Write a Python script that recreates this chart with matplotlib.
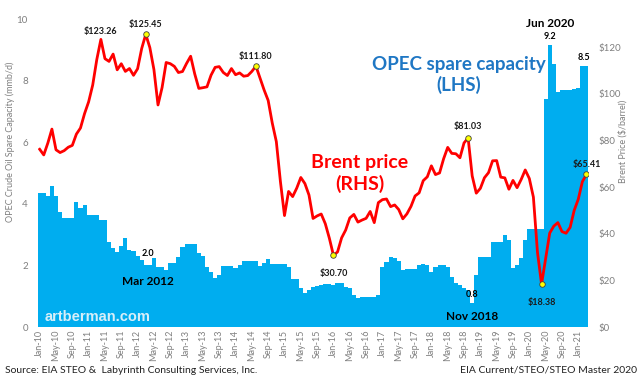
import numpy as np
import matplotlib.pyplot as plt

plt.rcParams['font.family'] = ['Lato', 'DejaVu Sans']

# OPEC spare capacity, mmb/d, monthly Jan-2010 .. Mar-2021 (LHS)
spare = [
    4.34, 4.34, 4.25, 4.59, 4.25, 3.74, 3.53, 3.53, 3.53, 4.07, 3.85, 3.96,   # 2010
    3.64, 3.64, 3.64, 3.47, 3.47, 2.77, 2.58, 2.45, 2.63, 2.88, 2.50, 2.47,   # 2011
    2.30, 2.17, 2.02, 2.00, 2.23, 1.94, 1.95, 1.85, 2.08, 2.08, 2.26, 2.59,   # 2012
    2.69, 2.69, 2.69, 2.41, 2.30, 1.96, 1.80, 1.58, 1.68, 1.98, 1.98, 1.98,   # 2013
    1.92, 2.01, 2.15, 2.15, 2.15, 2.15, 1.98, 2.09, 2.20, 2.05, 2.05, 2.05,   # 2014
    2.05, 1.96, 1.56, 1.56, 1.27, 1.11, 1.19, 1.30, 1.33, 1.37, 1.41, 1.41,   # 2015
    1.36, 1.42, 1.42, 1.31, 1.26, 1.04, 0.93, 0.96, 0.98, 0.98, 0.97, 1.04,   # 2016
    1.96, 2.12, 2.26, 2.23, 2.15, 1.85, 1.87, 1.89, 1.87, 2.01, 2.03, 2.01,   # 2017
    1.80, 1.96, 2.01, 2.01, 1.96, 1.61, 1.42, 1.36, 1.28, 1.20, 0.77, 1.69,   # 2018
    2.28, 2.28, 2.28, 2.77, 2.77, 2.77, 2.99, 2.82, 1.90, 2.01, 2.23, 2.82,   # 2019
    3.17, 3.17, 3.17, 3.17, 7.39, 9.16, 8.54, 7.62, 7.69, 7.69, 7.69, 7.73,   # 2020
    7.75, 8.47, 8.47,                                                         # 2021
]

# Brent spot, $/barrel, same months (RHS)
brent = [
    76.17, 73.75, 78.83, 84.82, 75.95, 74.76, 75.58, 77.04, 77.84, 82.67, 85.28, 91.45,
    96.52, 103.72, 114.64, 123.26, 114.99, 113.83, 116.97, 110.22, 112.83, 109.55, 110.77, 107.87,
    110.69, 119.33, 125.45, 119.75, 110.34, 95.16, 102.62, 113.36, 112.86, 111.71, 109.06, 109.49,
    112.96, 116.05, 108.47, 102.25, 102.56, 102.92, 107.93, 111.28, 111.60, 109.08, 107.79, 110.76,
    108.12, 108.90, 107.48, 107.76, 109.54, 111.80, 106.77, 101.61, 97.09, 87.43, 79.44, 62.34,
    47.76, 58.10, 55.89, 59.52, 64.08, 61.48, 56.56, 46.52, 47.62, 48.43, 44.27, 38.01,
    30.70, 32.18, 38.21, 41.58, 46.74, 48.25, 44.95, 45.84, 46.57, 49.52, 44.73, 53.31,
    54.58, 54.87, 51.59, 52.31, 50.33, 46.37, 48.48, 51.70, 56.15, 57.51, 62.71, 64.37,
    69.08, 65.32, 66.02, 72.11, 76.98, 74.41, 74.25, 72.53, 78.89, 81.03, 64.75, 57.36,
    59.41, 63.96, 66.14, 71.23, 71.32, 64.22, 63.92, 59.04, 62.83, 59.71, 63.21, 67.31,
    63.65, 55.66, 32.01, 18.38, 29.38, 40.27, 43.24, 44.74, 40.91, 40.19, 42.69, 49.99,
    54.77, 62.28, 65.41,
]

tick_labels = [f'{m}-{y:02d}' for y in range(10, 22) for m in ('Jan', 'May', 'Sep')][:34]

# (month index, label, y offset in points, draw marker)
price_notes = [(15, '$123.26', 6, False), (26, '$125.45', 7, True), (53, '$111.80', 7, True),
               (72, '$30.70', -13, True), (105, '$81.03', 8, True), (123, '$18.38', -13, True),
               (134, '$65.41', 7, True)]

BAR_BLUE = '#00adef'
GREY = '#7f7f7f'

fig = plt.figure(figsize=(6.4, 3.77), dpi=100)
ax = fig.add_axes([0.0588, 0.1326, 0.8607, 0.8170])
ax2 = ax.twinx()

x = np.arange(len(spare))
ax.bar(x, spare, width=1.0, color=BAR_BLUE, linewidth=0)
ax.set_xlim(-0.5, len(spare) - 0.5)
ax.set_ylim(0, 10)
ax.set_yticks(range(0, 11, 2))
ax.set_xticks(np.arange(0, len(spare), 4))
ax.set_xticklabels(tick_labels, rotation=90, fontsize=6.5)

ax2.plot(x, brent, color='#ff0000', lw=2.0, solid_joinstyle='round')
ax2.set_ylim(0, 132)
ax2.set_yticks(range(0, 121, 20))
ax2.set_yticklabels([f'${v}' for v in range(0, 121, 20)])

for a in (ax, ax2):
    for s in a.spines.values():
        s.set_visible(False)
ax.tick_params(axis='x', length=0, colors=GREY, pad=2)
ax.tick_params(axis='y', length=0, colors=GREY, labelsize=7, pad=7)
ax2.tick_params(axis='y', length=0, colors=GREY, labelsize=7, pad=7)

# price call-outs
for i, txt, dy, marker in price_notes:
    if marker:
        ax2.plot(i, brent[i], 'o', ms=4, mfc='#ffff00', mec='#404040', mew=0.6, zorder=5)
    ax2.annotate(txt, (i, brent[i]), xytext=(0, dy), textcoords='offset points',
                 ha='center', va='center', fontsize=6.5, fontweight='bold', color='#1a1a1a')

# spare capacity call-outs
ax.text(26.5, 2.0 + 0.25, '2.0', ha='center', va='bottom', fontsize=6.5, fontweight='bold')
ax.text(26.5, 1.48, 'Mar 2012', ha='center', va='center', fontsize=8.5, fontweight='bold')
ax.text(106, 0.77 + 0.15, '0.8', ha='center', va='bottom', fontsize=6.5, fontweight='bold')
ax.text(106, 0.35, 'Nov 2018', ha='center', va='center', fontsize=8.5, fontweight='bold')
ax.text(125, 9.16 + 0.12, '9.2', ha='center', va='bottom', fontsize=6.5, fontweight='bold')
ax.text(125, 9.85, 'Jun 2020', ha='center', va='center', fontsize=8.5, fontweight='bold')
ax.text(133.5, 8.47 + 0.12, '8.5', ha='center', va='bottom', fontsize=6.5, fontweight='bold')

ax.text(14.3, 0.33, 'artberman.com', ha='center', va='center', fontsize=10.5,
        fontweight='bold', color='#f0f6fa', alpha=0.9, family=['Liberation Sans', 'DejaVu Sans'])

ax2.text(102.8, 108, 'OPEC spare capacity\n(LHS)', ha='center', va='center', fontsize=13.5,
         fontweight='bold', color='#1f77c4', linespacing=1.25)
ax2.text(78.5, 65.8, 'Brent price\n(RHS)', ha='center', va='center', fontsize=14,
         fontweight='bold', color='#ff0000', linespacing=1.2)

fig.text(0.016, 0.625, 'OPEC Crude Oil Spare Capacity (mmb/d)', rotation=90,
         ha='center', va='center', fontsize=6.5, color=GREY)
fig.text(0.973, 0.625, 'Brent Price ($/barrel)', rotation=90,
         ha='center', va='center', fontsize=6.5, color=GREY)

fig.text(0.008, 0.018, 'Source: EIA STEO &  Labyrinth Consulting Services, Inc.',
         ha='left', va='center', fontsize=7.5, color='#222222')
fig.text(0.995, 0.018, 'EIA Current/STEO/STEO Master 2020',
         ha='right', va='center', fontsize=7.5, color='#222222')

fig.savefig('out.png', dpi=100)
